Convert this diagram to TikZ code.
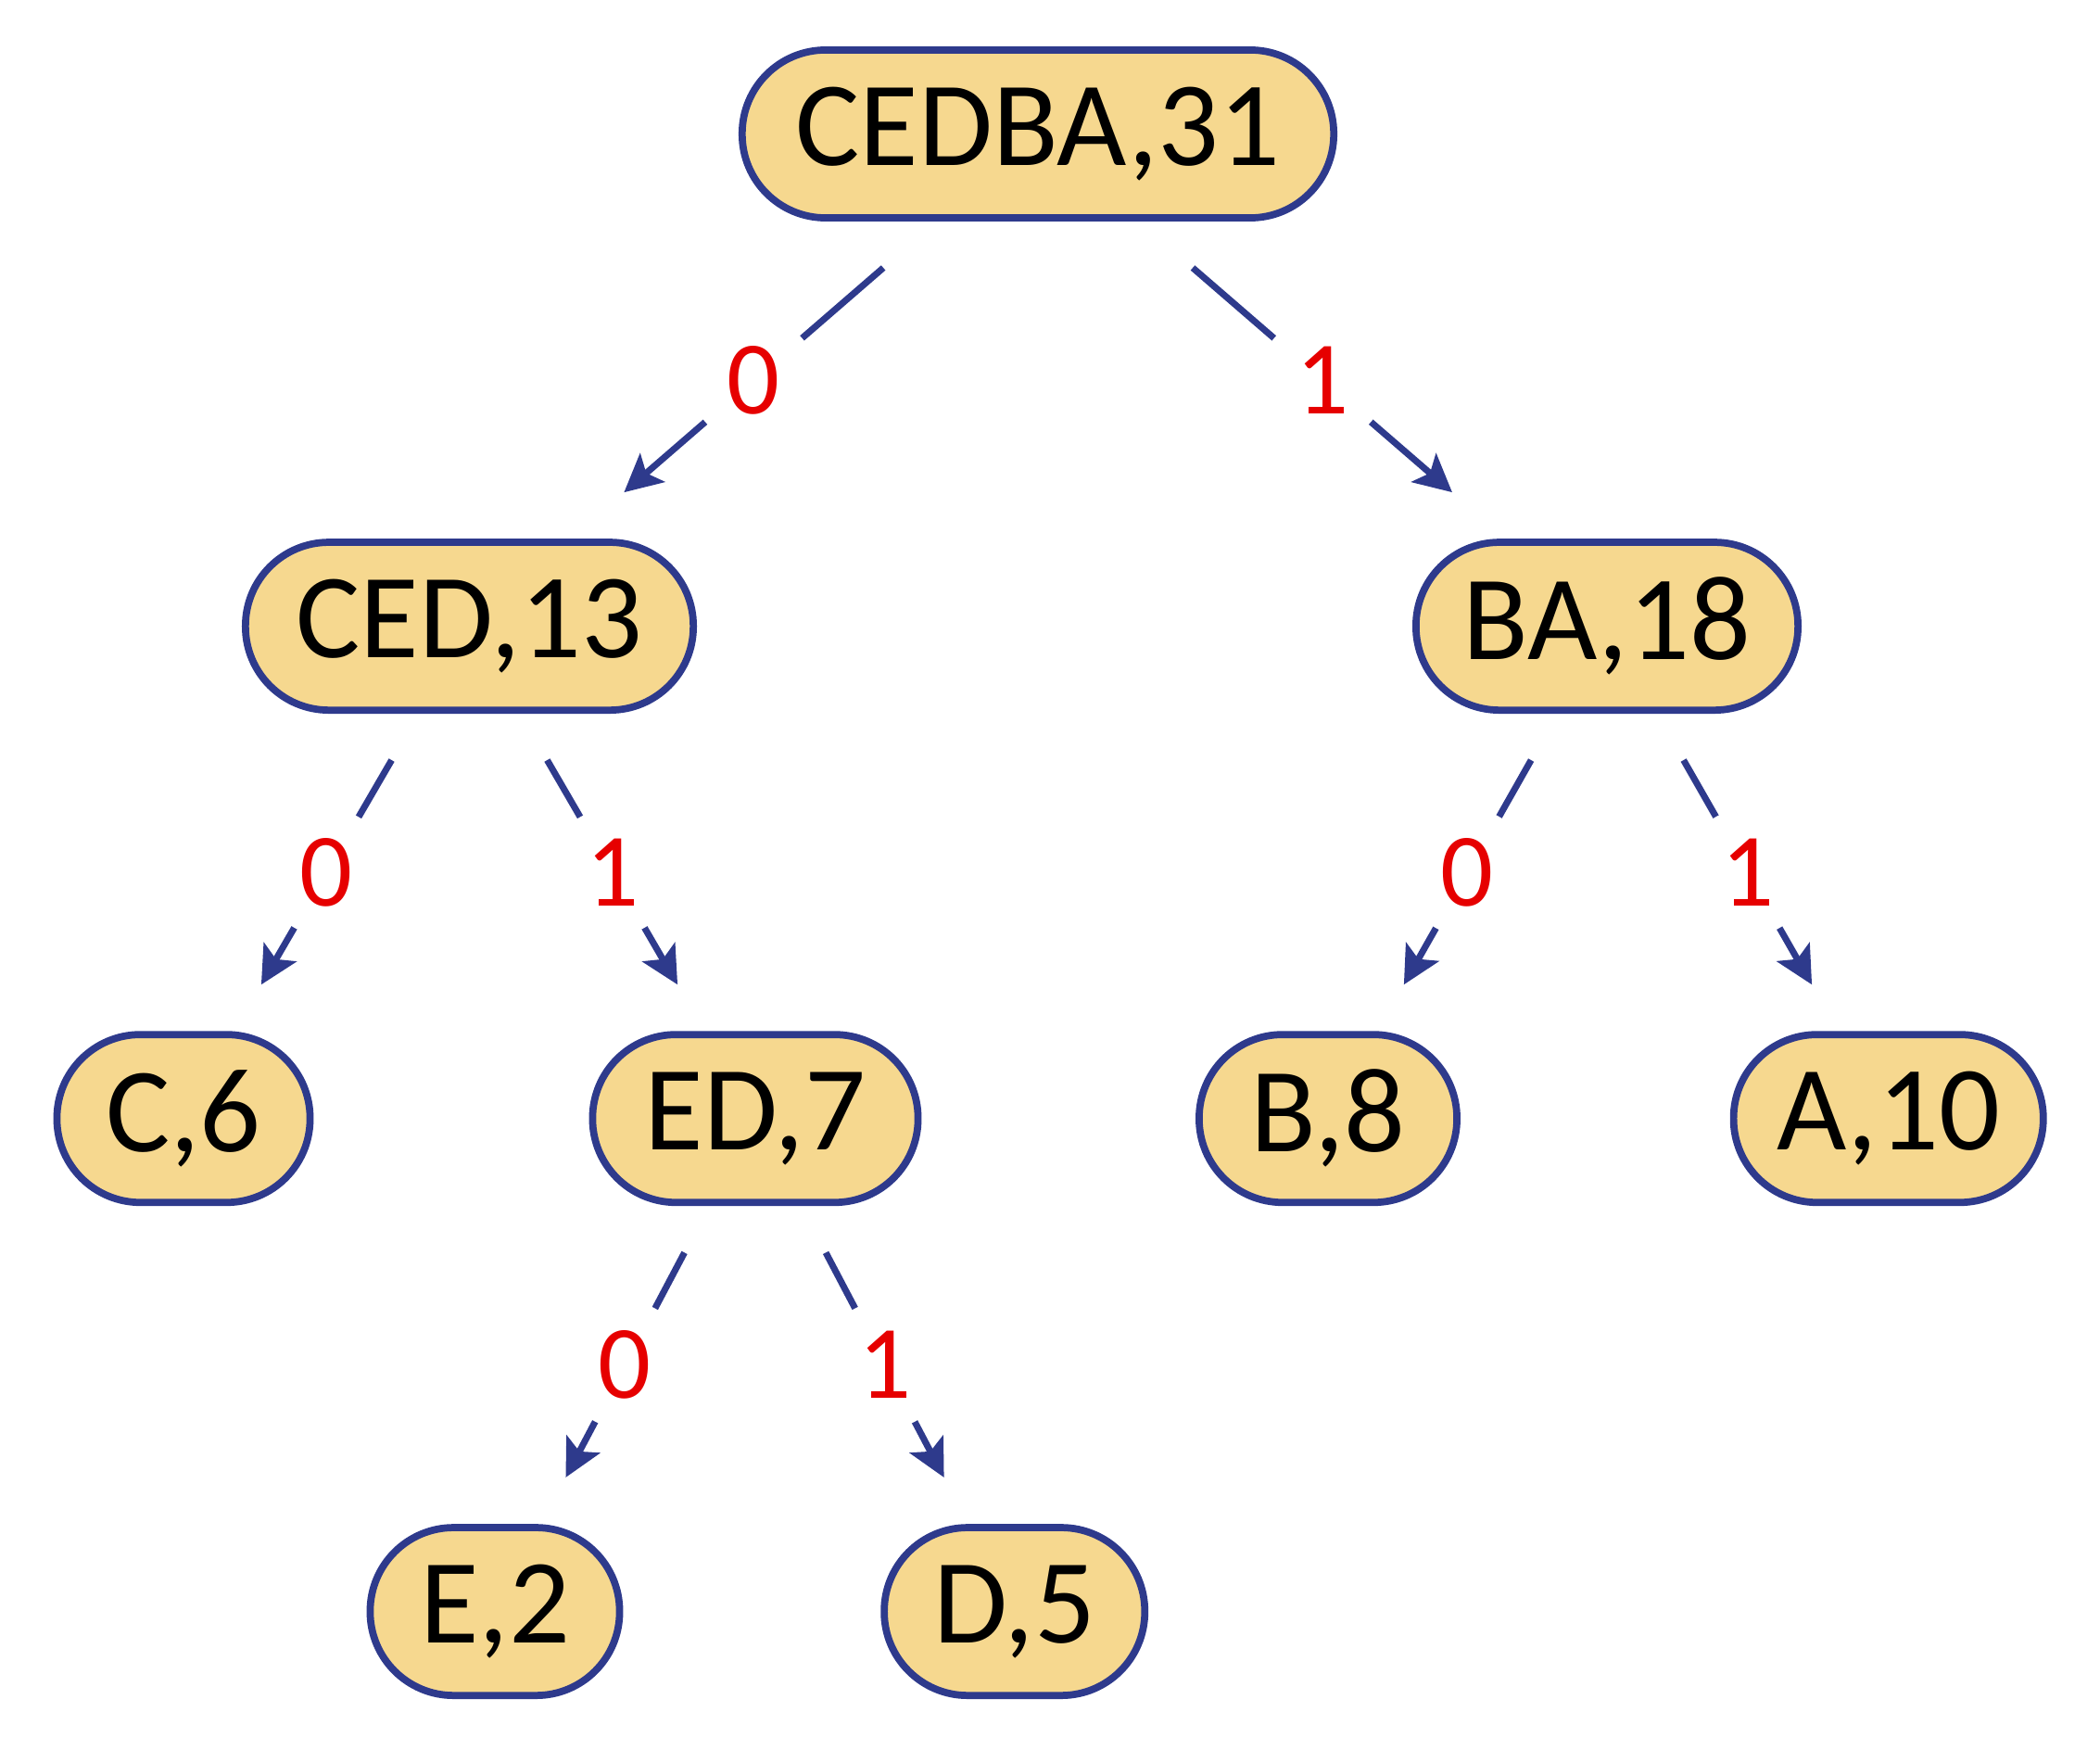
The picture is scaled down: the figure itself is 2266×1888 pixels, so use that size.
\documentclass[tikz,border=0pt]{standalone}
\usepackage{fontspec}
\setmainfont{Carlito}
\usetikzlibrary{arrows.meta,calc}
\definecolor{nodeborder}{HTML}{2E3A8C}
\definecolor{nodefill}{HTML}{F6D88F}
\definecolor{labred}{HTML}{E60000}
\begin{document}
\begin{tikzpicture}[x=0.01cm,y=-0.01cm,
  hnode/.style={draw=nodeborder, line width=2.2pt, fill=nodefill, rectangle,
    rounded corners=0.9cm, minimum height=1.81cm, inner sep=0pt,
    font=\fontsize{37}{44}\selectfont, text=black},
  edge/.style={draw=nodeborder, line width=2pt,
    -{Stealth[length=11.5pt,width=11.5pt,inset=2.5pt]}},
  lab/.style={circle, fill=white, minimum size=1.38cm, inner sep=0pt,
    text=labred, font=\fontsize{32}{38}\selectfont}]
\useasboundingbox (0,0) rectangle (2266,1888);
\node[hnode, minimum width=6.38cm] (root) at (1120,144.5) {CEDBA,31};
\node[hnode, minimum width=4.83cm] (ced) at (506.5,675.6) {CED,13};
\node[hnode, minimum width=4.12cm] (ba) at (1734,675.6) {BA,18};
\node[hnode, minimum width=2.73cm] (c) at (198,1206.7) {C,6};
\node[hnode, minimum width=3.51cm] (ed) at (815,1206.7) {ED,7};
\node[hnode, minimum width=2.78cm] (b) at (1433,1206.7) {B,8};
\node[hnode, minimum width=3.34cm] (a) at (2037.7,1206.7) {A,10};
\node[hnode, minimum width=2.69cm] (e) at (534,1738.6) {E,2};
\node[hnode, minimum width=2.81cm] (d) at (1094.7,1738.6) {D,5};
\draw[edge] ($(root)!0.272!(ced)$) -- node[lab]{0} ($(root)!0.728!(ced)$);
\draw[edge] ($(root)!0.272!(ba)$) -- node[lab]{1} ($(root)!0.728!(ba)$);
\draw[edge] ($(ced)!0.272!(c)$) -- node[lab]{0} ($(ced)!0.728!(c)$);
\draw[edge] ($(ced)!0.272!(ed)$) -- node[lab]{1} ($(ced)!0.728!(ed)$);
\draw[edge] ($(ba)!0.272!(b)$) -- node[lab]{0} ($(ba)!0.728!(b)$);
\draw[edge] ($(ba)!0.272!(a)$) -- node[lab]{1} ($(ba)!0.728!(a)$);
\draw[edge] ($(ed)!0.272!(e)$) -- node[lab]{0} ($(ed)!0.728!(e)$);
\draw[edge] ($(ed)!0.272!(d)$) -- node[lab]{1} ($(ed)!0.728!(d)$);
\end{tikzpicture}
\end{document}
